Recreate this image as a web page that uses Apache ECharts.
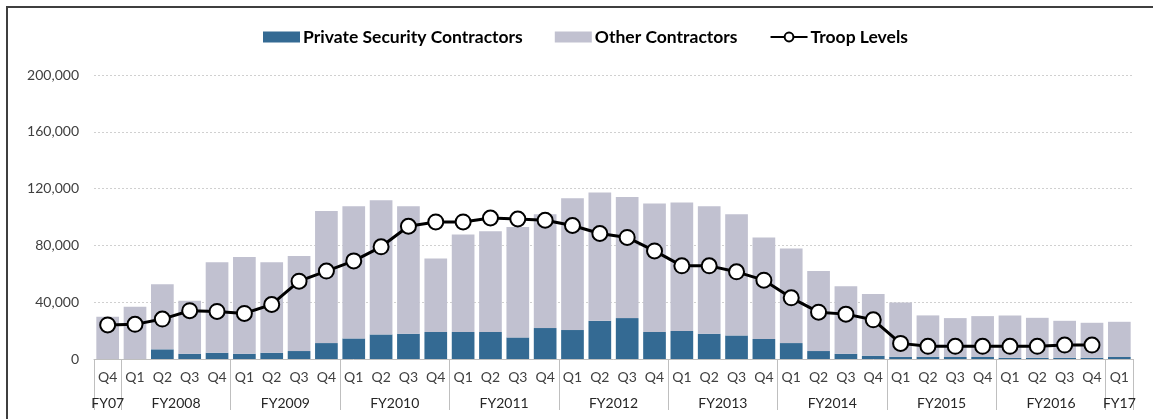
<!DOCTYPE html>
<html>
<head>
<meta charset="utf-8">
<script src="https://cdn.jsdelivr.net/npm/echarts@6/dist/echarts.min.js"></script>
<style>
  html, body { margin: 0; padding: 0; background: #fff; overflow: hidden; }
  #chart { position: absolute; left: 0; top: 0; width: 1153px; height: 419px; }
  #frame { position: absolute; left: 6px; top: 6px; width: 1200px; height: 500px;
           border-left: 2px solid #3f3f3f; border-top: 2px solid #3f3f3f; pointer-events: none; }
</style>
</head>
<body>
<div id="chart"></div>
<div id="frame"></div>
<script>
// quarter labels, FY07 Q4 through FY17 Q1
var quarters = ['Q4',
  'Q1', 'Q2', 'Q3', 'Q4', 'Q1', 'Q2', 'Q3', 'Q4', 'Q1', 'Q2', 'Q3', 'Q4',
  'Q1', 'Q2', 'Q3', 'Q4', 'Q1', 'Q2', 'Q3', 'Q4', 'Q1', 'Q2', 'Q3', 'Q4',
  'Q1', 'Q2', 'Q3', 'Q4', 'Q1', 'Q2', 'Q3', 'Q4', 'Q1', 'Q2', 'Q3', 'Q4',
  'Q1'];
var fiscalYears = ['FY07', 'FY2008', 'FY2009', 'FY2010', 'FY2011', 'FY2012',
  'FY2013', 'FY2014', 'FY2015', 'FY2016', 'FY17'];
// number of quarters shown for each fiscal year
var fiscalYearSpans = [1, 4, 4, 4, 4, 4, 4, 4, 4, 4, 1];

var privateSecurity = [0, 0, 6800, 3700, 4400, 3700, 4400, 5600, 11200,
  14500, 17300, 17800, 19000, 19000, 19000, 15200, 21800,
  20400, 26900, 28800, 19000, 19700, 17800, 16600, 14100,
  11200, 5600, 3700, 2300, 1600, 1600, 1400, 1400,
  900, 900, 900, 900, 1400];
var totalContractors = [29700, 36800, 52700, 41000, 68200, 71900, 68200, 72600, 104300,
  107600, 111800, 107600, 70800, 87600, 90000, 93000, 101900,
  113200, 117200, 114100, 109500, 110200, 107600, 101900, 85500,
  77800, 61900, 51300, 45700, 39800, 30700, 28800, 30200,
  30700, 29000, 26900, 25500, 26200];
var troopLevels = [24000, 24400, 28100, 34000, 33500, 32100, 38400, 54800, 61900,
  69100, 79000, 93500, 96500, 96500, 99300, 98600, 97700,
  94000, 88400, 85600, 76100, 65600, 65600, 61400, 55500,
  43100, 33000, 31600, 27600, 11000, 8900, 8900, 8900,
  8900, 8900, 9800, 9800, null];

var yTicks = [0, 40000, 80000, 120000, 160000, 200000];

var otherContractors = totalContractors.map(function (t, i) {
  return t - privateSecurity[i];
});

// group boundaries and label centres on a 0..n value scale
var yearBounds = [0];
var yearCentres = [];
fiscalYearSpans.forEach(function (span) {
  var start = yearBounds[yearBounds.length - 1];
  yearCentres.push(start + span / 2);
  yearBounds.push(start + span);
});

var chart = echarts.init(document.getElementById('chart'));
var fontFamily = 'Lato, "Open Sans", sans-serif';

chart.setOption({
  animation: false,
  textStyle: { fontFamily: fontFamily },
  legend: {
    top: 23,
    left: 258,
    itemGap: 32,
    itemWidth: 37,
    itemHeight: 11,
    textStyle: { fontFamily: fontFamily, fontWeight: 'bold', fontSize: 17.5, color: '#000', padding: [0, 0, 0, -2] },
    data: [
      { name: 'Private Security Contractors', icon: 'rect' },
      { name: 'Other Contractors', icon: 'rect' },
      { name: 'Troop Levels' }
    ]
  },
  grid: { left: 94, right: 20, top: 75, bottom: 60 },
  xAxis: [{
    type: 'category',
    data: quarters,
    boundaryGap: true,
    axisLine: { lineStyle: { color: '#bfbfbf', width: 1 } },
    axisTick: { show: false },
    axisLabel: { color: '#404040', fontSize: 14, margin: 11, interval: 0 }
  }, {
    type: 'value',
    position: 'bottom',
    min: 0,
    max: quarters.length,
    splitLine: { show: false },
    axisLine: { show: false },
    axisTick: {
      show: true,
      length: 51,
      customValues: yearBounds,
      lineStyle: { color: '#bfbfbf', width: 1 }
    },
    axisLabel: {
      color: '#262626',
      fontSize: 14,
      margin: 37,
      customValues: yearCentres,
      formatter: function (v) {
        var idx = yearCentres.indexOf(v);
        return idx >= 0 ? fiscalYears[idx] : '';
      }
    }
  }],
  yAxis: {
    type: 'value',
    min: yTicks[0],
    max: yTicks[yTicks.length - 1],
    interval: 40000,
    axisLine: { show: false },
    axisTick: { show: false },
    axisLabel: {
      color: '#404040',
      fontSize: 14,
      margin: 15,
      formatter: function (v) { return v.toLocaleString('en-US'); }
    },
    splitLine: { lineStyle: { color: '#d0d0d0', type: [2, 2], width: 1 } }
  },
  series: [{
    name: 'Private Security Contractors',
    type: 'bar',
    stack: 'contractors',
    xAxisIndex: 0,
    barCategoryGap: '17%',
    itemStyle: { color: '#346a93' },
    data: privateSecurity
  }, {
    name: 'Other Contractors',
    type: 'bar',
    stack: 'contractors',
    xAxisIndex: 0,
    barCategoryGap: '17%',
    itemStyle: { color: '#c1c1d0' },
    data: otherContractors
  }, {
    name: 'Troop Levels',
    type: 'line',
    xAxisIndex: 0,
    data: troopLevels,
    symbol: 'circle',
    symbolSize: 15,
    lineStyle: { color: '#000', width: 3 },
    itemStyle: { color: '#fff', borderColor: '#000', borderWidth: 2 },
    z: 5
  }]
});
</script>
</body>
</html>
